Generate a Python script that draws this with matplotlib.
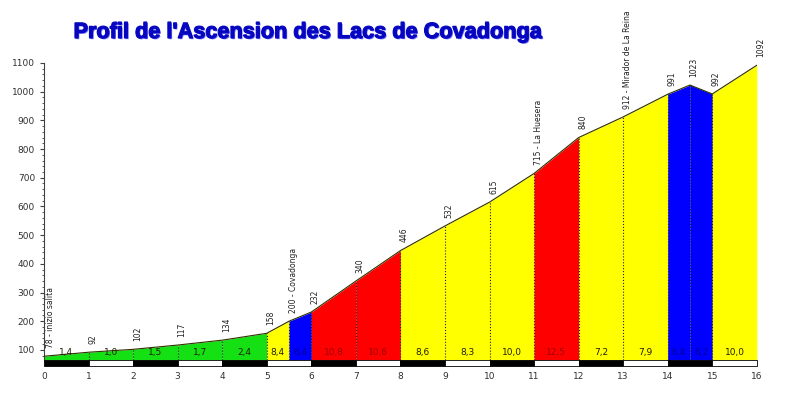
import matplotlib
matplotlib.use('Agg')
import matplotlib.pyplot as plt
from matplotlib.patches import Rectangle, PathPatch
from matplotlib.textpath import TextPath
from matplotlib.font_manager import FontProperties
from matplotlib.transforms import Affine2D
from matplotlib.ticker import MultipleLocator

# profile points (km, altitude in m)
km = [0, 1, 2, 3, 4, 5, 5.5, 6, 7, 8, 9, 10, 11, 12, 13, 14, 14.5, 15, 16]
alt = [78, 92, 102, 117, 134, 158, 200, 232, 340, 446, 532, 615, 715, 840, 912, 991, 1023, 992, 1092]

# one entry per segment between two points
seg_colors = ['#14e014'] * 5 + ['#ffff00', '#0000ff', '#ff0000', '#ff0000',
              '#ffff00', '#ffff00', '#ffff00', '#ff0000', '#ffff00', '#ffff00',
              '#0000ff', '#0000ff', '#ffff00']
grades = ['1,4', '1,0', '1,5', '1,7', '2,4', '8,4', '6,4', '10,8', '10,6', '8,6',
          '8,3', '10,0', '12,5', '7,2', '7,9', '6,4', '6,2', '10,0']

places = {0: 'inizio salita', 5.5: 'Covadonga', 11: 'La Huesera', 13: 'Mirador de La Reina'}

km_ticks = list(range(0, 17))
alt_ticks = list(range(100, 1101, 100))

title = "Profil de l'Ascension des Lacs de Covadonga"

base = 65
text_col = {'#ff0000': '#a00000', '#0000ff': '#000090'}

fig = plt.figure(figsize=(8, 3.96), dpi=100)
ax = fig.add_axes([0.055, 0.091, 0.891, 0.750])

for i in range(len(km) - 1):
    c = seg_colors[i]
    ax.fill_between(km[i:i + 2], alt[i:i + 2], base, color=c, lw=0, zorder=1)
    ax.text((km[i] + km[i + 1]) / 2, base + 12, grades[i], ha='center', va='bottom',
            fontsize=6.5, color=text_col.get(c, '#202000'), zorder=4)

# outline of the profile
ax.plot(km, alt, color='#303000', lw=0.8, zorder=3)

# dotted verticals at each point
for x, y in zip(km[1:-1], alt[1:-1]):
    ax.plot([x, x], [base, y], color='#202020', lw=0.8, ls=':', zorder=2)

# altitude labels
for x, y in zip(km, alt):
    lab = str(y)
    if x in places:
        lab = f'{y} - {places[x]}'
    dx = 5 if x == 0 else 3
    ax.annotate(lab, (x, y), xytext=(dx, 6), textcoords='offset points', rotation=90,
                ha='center', va='bottom', fontsize=5.5, color='#202020',
                annotation_clip=False)

# black/white km bar under the profile
trans = ax.get_xaxis_transform()
for k in km_ticks[:-1]:
    ax.add_patch(Rectangle((k, -0.022), 1, 0.022, transform=trans, clip_on=False,
                           facecolor='black' if k % 2 == 0 else 'white',
                           edgecolor='black', lw=0.6, zorder=5))

ax.set_xlim(0, 16)
ax.set_ylim(base, 1100)
ax.set_xticks(km_ticks)
ax.set_xticklabels([str(k) for k in km_ticks])
ax.set_yticks(alt_ticks)
ax.yaxis.set_minor_locator(MultipleLocator(20))
ax.tick_params(axis='x', length=0, pad=9, labelsize=6.5, labelcolor='#303030')
ax.tick_params(axis='y', which='major', length=3, labelsize=6.5, labelcolor='#303030', color='#404040')
ax.tick_params(axis='y', which='minor', length=1.5, color='#404040')
for s in ['top', 'right', 'bottom']:
    ax.spines[s].set_visible(False)
ax.spines['left'].set_color('#404040')
ax.spines['left'].set_linewidth(0.8)

# condensed bold title: squeeze a text path horizontally (no narrow font installed)
tp = TextPath((0, 0), title, size=22, prop=FontProperties(family='Liberation Sans', weight='bold'))
bb = tp.get_extents()
sx = 467 / bb.width
tr = Affine2D().translate(-bb.x0, 0).scale(sx, 1).translate(75, 396 - 38)
shadow = PathPatch(tp, facecolor='#8080ff', edgecolor='none')
front = PathPatch(tp, facecolor='#0606c0', edgecolor='#0606c0', lw=0.9)
fig.add_artist(shadow)
fig.add_artist(front)
shadow.set_transform(tr + Affine2D().translate(1.2, -1.2))
front.set_transform(tr)

fig.savefig('out.png', dpi=100)
